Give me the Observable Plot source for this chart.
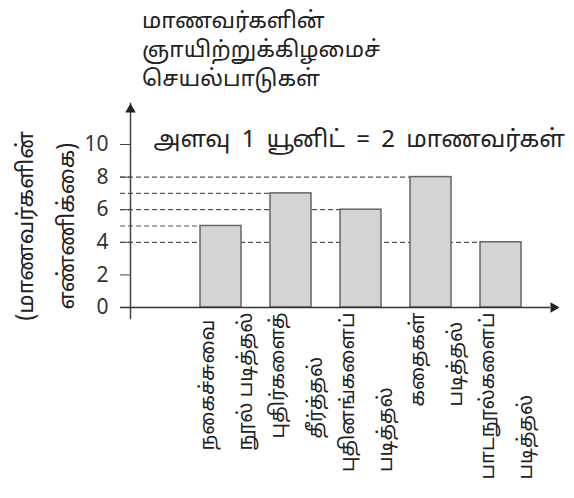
<!DOCTYPE html>
<html><head><meta charset="utf-8">
<script src="https://cdn.jsdelivr.net/npm/d3@7"></script>
<script src="https://cdn.jsdelivr.net/npm/@observablehq/plot@0.6"></script>
<style>
body{margin:0;background:#fff;font-family:"Noto Sans Tamil","Lohit Tamil","Noto Sans",sans-serif;}
#title{height:90px;padding-left:142px;box-sizing:border-box;padding-top:8px;font-size:22.5px;line-height:29px;color:#222;}
#title div{white-space:nowrap;}
</style></head><body>
<div id="title"></div>
<div id="chart"></div>
<script>
const titleLines = ["மாணவர்களின்", "ஞாயிற்றுக்கிழமைச்", "செயல்பாடுகள்"];
const scaleNote = "அளவு 1 யூனிட் = 2 மாணவர்கள்";
const yLabel = "(மாணவர்களின்\nஎண்ணிக்கை)";
const activities = ["நகைச்சுவை\nநூல் படித்தல்", "புதிர்களைத்\nதீர்த்தல்", "புதினங்களைப்\nபடித்தல்", "கதைகள்\nபடித்தல்", "பாடநூல்களைப்\nபடித்தல்"];
const students = [5, 7, 6, 8, 4];
const yTicks = [0, 2, 4, 6, 8, 10];

const FONT = '"Noto Sans Tamil","Lohit Tamil","Noto Sans",sans-serif';
document.getElementById("title").innerHTML = titleLines.map(t => `<div>${t}</div>`).join("");

const data = activities.map((a, i) => ({activity: a, value: students[i]}));

const plot = Plot.plot({
  width: 574, height: 408,
  marginTop: 54, marginBottom: 191, marginLeft: 130, marginRight: 19,
  style: {fontFamily: FONT, background: "white", overflow: "visible", color: "#333"},
  x: {domain: activities, range: [186, 536], paddingInner: 0.414, paddingOuter: 0.207, axis: null},
  y: {domain: [0, 10], axis: null},
  marks: [
    Plot.ruleY(data, {y: "value", x1: () => activities[0], x2: "activity", insetLeft: -80, stroke: "#555", strokeWidth: 1.2, strokeDasharray: "5,3"}),
    Plot.barY(data, {x: "activity", y: "value", fill: "#d4d4d4", stroke: "#666", strokeWidth: 1.5}),
    Plot.axisY(yTicks, {tickSize: 10, tickPadding: 12, fontSize: 21, stroke: "#444", fill: "#333", label: null, tickFormat: d => d}),
    Plot.frame({anchor: "left", insetTop: -41, insetBottom: -11, stroke: "#444", strokeWidth: 1.5}),
    Plot.ruleY([0], {insetLeft: -10, insetRight: 5, stroke: "#333", strokeWidth: 1.5}),
    Plot.dot([0], {frameAnchor: "top-left", symbol: "triangle2", r: 5, fill: "#222", stroke: null, dy: -35}),
    Plot.dot([0], {frameAnchor: "bottom-right", symbol: "triangle2", rotate: 90, r: 5, fill: "#222", stroke: null, dx: -2}),
    Plot.text([scaleNote], {text: d => d, frameAnchor: "top-left", textAnchor: "start", lineAnchor: "middle", dx: 23, dy: -5, fontSize: 24, fill: "#222"}),
    Plot.text([yLabel], {text: d => d, frameAnchor: "left", rotate: -90, textAnchor: "middle", lineAnchor: "middle", lineHeight: 1.8, fontSize: 22.5, dx: -90, fill: "#222"}),
    Plot.text(data, {x: "activity", text: "activity", frameAnchor: "bottom", rotate: -90, textAnchor: "start", lineAnchor: "middle", lineHeight: 1.9, fontSize: 20, dy: 5, fill: "#222"})
  ]
});
document.getElementById("chart").append(plot);

// scale-note word spacing
const textGroups = plot.querySelectorAll('g[aria-label="text"]');
if (textGroups.length) textGroups[0].setAttribute("word-spacing", "5");

// align each multi-line label block so its longest line starts just below the axis
const g = textGroups[textGroups.length - 1];
if (g) {
  g.querySelectorAll("text").forEach(t => {
    const spans = t.querySelectorAll("tspan");
    let L = 0;
    (spans.length ? Array.from(spans) : [t]).forEach(s => { L = Math.max(L, s.getComputedTextLength()); });
    t.setAttribute("transform", (t.getAttribute("transform") || "") + ` translate(${-L},0)`);
  });
}
</script>
</body></html>
